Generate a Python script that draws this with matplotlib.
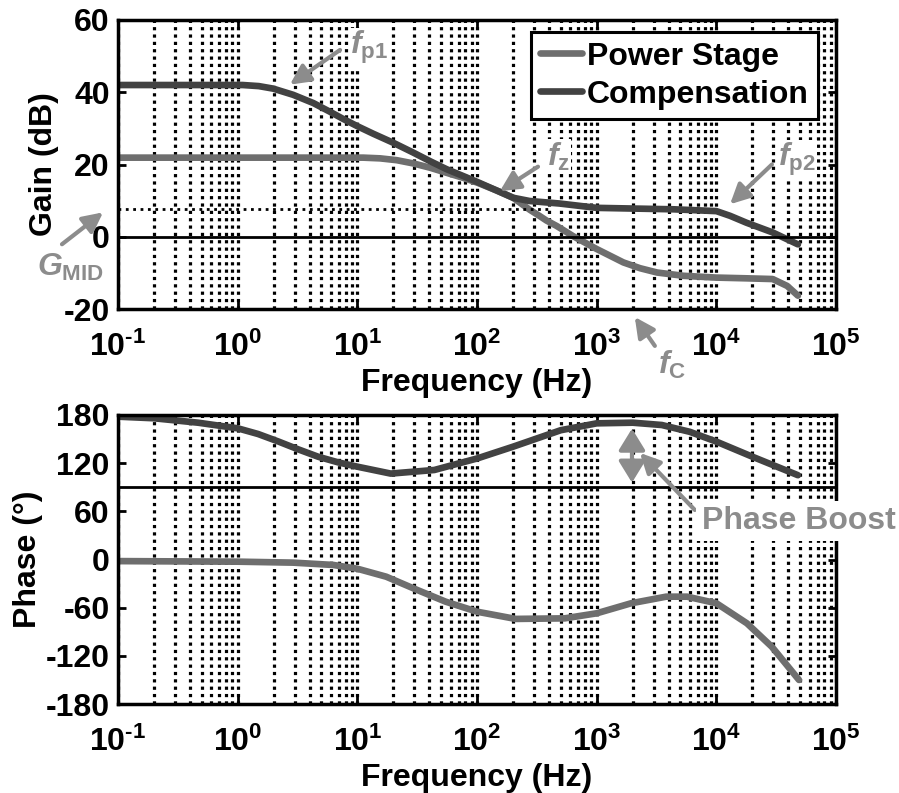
import matplotlib
matplotlib.use("Agg")
import matplotlib.pyplot as plt

plt.rcParams['font.family'] = ['Liberation Sans', 'DejaVu Sans']
plt.rcParams['font.weight'] = 'bold'
plt.rcParams['axes.unicode_minus'] = False
plt.rcParams['mathtext.fontset'] = 'custom'
plt.rcParams['mathtext.default'] = 'regular'
plt.rcParams['mathtext.it'] = 'Liberation Sans:italic:bold'
plt.rcParams['mathtext.rm'] = 'Liberation Sans:bold'
plt.rcParams['mathtext.bf'] = 'Liberation Sans:bold'

# gain (dB)
f_ps_gain = [0.1, 1, 11.2, 15.5, 21.3, 29.3, 40.6, 55.7, 76.7, 100, 146, 200,
             275, 335, 380, 462, 633, 1e3, 1.67e3, 2.3e3, 3.2e3, 5.3e3, 1e4,
             1.78e4, 2.95e4, 3.9e4, 4.8e4]
ps_gain = [21.9, 21.9, 21.9, 21.7, 21.2, 20.3, 19.1, 17.7, 16.3, 15.0, 12.8,
           10.8, 7.5, 5.7, 4.5, 3.0, 0.2, -3.4, -7.1, -8.7, -9.9, -10.8, -11.3,
           -11.5, -11.7, -13.6, -16.3]
f_comp_gain = [0.1, 0.5, 1.1, 1.5, 1.98, 2.9, 4.29, 5.9, 7.62, 10, 13.6, 20,
               29.3, 40.6, 55.7, 76.7, 100, 146, 200, 275, 490, 1e3, 4.4e3,
               1e4, 1.3e4, 1.78e4, 2.95e4, 4.8e4]
comp_gain = [42, 42, 42, 41.7, 41.0, 39.3, 37.0, 34.6, 32.6, 30.6, 28.5, 26.0,
             23.3, 20.9, 18.7, 16.8, 15.2, 12.8, 10.8, 9.9, 9.2, 8.0, 7.6, 7.1,
             5.8, 3.9, 1.2, -2.1]
g_mid = 7.8
g_mid_end = 400

# phase (deg)
f_ps_phase = [0.1, 1, 2.9, 6.3, 10, 17.4, 31.7, 54.6, 100, 210, 540, 1e3,
              1.94e3, 3.8e3, 5.7e3, 1e4, 1.8e4, 2.9e4, 4.9e4]
ps_phase = [-2, -2.7, -3.9, -6.8, -11.5, -21.4, -38, -52.5, -65, -74, -73.3,
            -67, -54.5, -46.3, -46.3, -54.5, -79.5, -108.6, -150]
f_comp_phase = [0.1, 0.2, 0.466, 1, 1.48, 2.2, 3.19, 4.7, 6.9, 10, 19, 44, 101,
                200, 500, 1e3, 2e3, 3.5e3, 6e3, 1e4, 2e4, 4.8e4]
comp_phase = [177.9, 175.9, 170.4, 163.4, 156.3, 146.8, 137.3, 128, 121, 115.6,
              107, 111.5, 126, 140.5, 161, 169.6, 170.4, 167.5, 159, 146.8, 128,
              105]
phase_ref = 90.3

c_ps = '#6e6e6e'
c_comp = '#424242'
c_ann = '#8c8c8c'

xticks = [1e-1, 1e0, 1e1, 1e2, 1e3, 1e4, 1e5]
xticklabels = [r'$10^{\text{-}1}$', r'$10^{0}$', r'$10^{1}$', r'$10^{2}$',
               r'$10^{3}$', r'$10^{4}$', r'$10^{5}$']

fig = plt.figure(figsize=(8.99, 7.93), dpi=100)
ax1 = fig.add_axes([0.1313, 0.6103, 0.7987, 0.3645])
ax2 = fig.add_axes([0.1313, 0.1122, 0.7987, 0.3645])


def style(ax):
    ax.set_xscale('log')
    ax.set_xlim(1e-1, 1e5)
    ax.set_xticks(xticks)
    ax.set_xticklabels(xticklabels)
    ax.grid(True, which='both', axis='x', color='k', linestyle=(0, (1, 1.3)),
            linewidth=2.3)
    ax.tick_params(which='major', direction='in', length=6, width=2, top=True,
                   right=True, labelsize=23, pad=6)
    ax.tick_params(axis='x', which='major', pad=16, labelsize=23)
    ax.tick_params(which='minor', length=0)
    for s in ax.spines.values():
        s.set_linewidth(2.5)
    ax.set_xlabel('Frequency (Hz)', fontsize=23, fontweight='bold', labelpad=4)


style(ax1)
style(ax2)

# gain panel
ax1.plot(f_ps_gain, ps_gain, color=c_ps, lw=4.8, label='Power Stage',
         solid_capstyle='round')
ax1.plot(f_comp_gain, comp_gain, color=c_comp, lw=4.8, label='Compensation',
         solid_capstyle='round')
ax1.axhline(0, color='k', lw=2)
ax1.plot([1e-1, g_mid_end], [g_mid, g_mid], color='k', lw=2, linestyle=':')
ax1.set_ylim(-20, 60)
ax1.set_yticks([-20, 0, 20, 40, 60])
ax1.set_ylabel('Gain (dB)', fontsize=23, fontweight='bold', labelpad=3)

leg = ax1.legend(loc='upper right', bbox_to_anchor=(818 / 899, 1 - 32 / 793),
                 bbox_transform=fig.transFigure, borderaxespad=0, fontsize=23,
                 fancybox=False, framealpha=1, edgecolor='k', handlelength=1.3,
                 handletextpad=0.15, borderpad=0.3, labelspacing=0.25)
leg.get_frame().set_linewidth(2.2)
for t in leg.get_texts():
    t.set_fontweight('bold')

arrow = dict(arrowstyle='-|>,head_length=0.6,head_width=0.3', color=c_ann,
             lw=3, shrinkA=0, shrinkB=0, mutation_scale=20)
box = dict(facecolor='white', edgecolor='none', pad=1)

ax1.annotate('', xy=(2.73, 42.1), xytext=(7.16, 51.7), arrowprops=arrow)
ax1.text(8.67, 52.3, r'$\mathit{f}_{p1}$', color=c_ann, fontsize=23,
         ha='left', va='center', bbox=box)
ax1.annotate('', xy=(155, 12.6), xytext=(323, 19.4), arrowprops=arrow)
ax1.text(384, 22.2, r'$\mathit{f}_{z}$', color=c_ann, fontsize=23,
         ha='left', va='center', bbox=box)
ax1.annotate('', xy=(1.30e4, 9.0), xytext=(2.91e4, 20), arrowprops=arrow)
ax1.text(3.27e4, 21.4, r'$\mathit{f}_{p2}$', color=c_ann, fontsize=23,
         ha='left', va='center', bbox=box)
ax1.annotate('', xy=(2.08e3, -22.2), xytext=(3.06e3, -30.2), arrowprops=arrow,
             annotation_clip=False)
ax1.text(3.24e3, -35.4, r'$\mathit{f}_{C}$', color=c_ann, fontsize=23,
         ha='left', va='center', clip_on=False)
ax1.annotate('', xy=(0.075, 6.76), xytext=(0.034, -2.07), arrowprops=arrow,
             annotation_clip=False)
ax1.text(0.021, -8.4, r'$\mathit{G}_{MID}$', color=c_ann, fontsize=23,
         ha='left', va='center', clip_on=False)

# phase panel
ax2.plot(f_ps_phase, ps_phase, color=c_ps, lw=4.8, solid_capstyle='round')
ax2.plot(f_comp_phase, comp_phase, color=c_comp, lw=4.8, solid_capstyle='round')
ax2.axhline(phase_ref, color='k', lw=2)
ax2.set_ylim(-180, 180)
ax2.set_yticks([-180, -120, -60, 0, 60, 120, 180])
ax2.set_ylabel('Phase (°)', fontsize=23, fontweight='bold', labelpad=2)

dbl = dict(arrowstyle='<|-|>,head_length=0.65,head_width=0.4', color=c_ann,
           lw=3, shrinkA=0, shrinkB=0, mutation_scale=20)
ax2.annotate('', xy=(1.97e3, 163), xytext=(1.97e3, 95.7), arrowprops=dbl)
ax2.annotate('', xy=(2.3e3, 132.7), xytext=(6.6e3, 61.7), arrowprops=arrow,
             annotation_clip=False)
ax2.text(7.57e3, 48, 'Phase Boost', color=c_ann, fontsize=23, fontweight='bold',
         ha='left', va='center', clip_on=False,
         bbox=dict(facecolor='white', edgecolor='none', pad=4))

fig.savefig('out.png', dpi=100)
